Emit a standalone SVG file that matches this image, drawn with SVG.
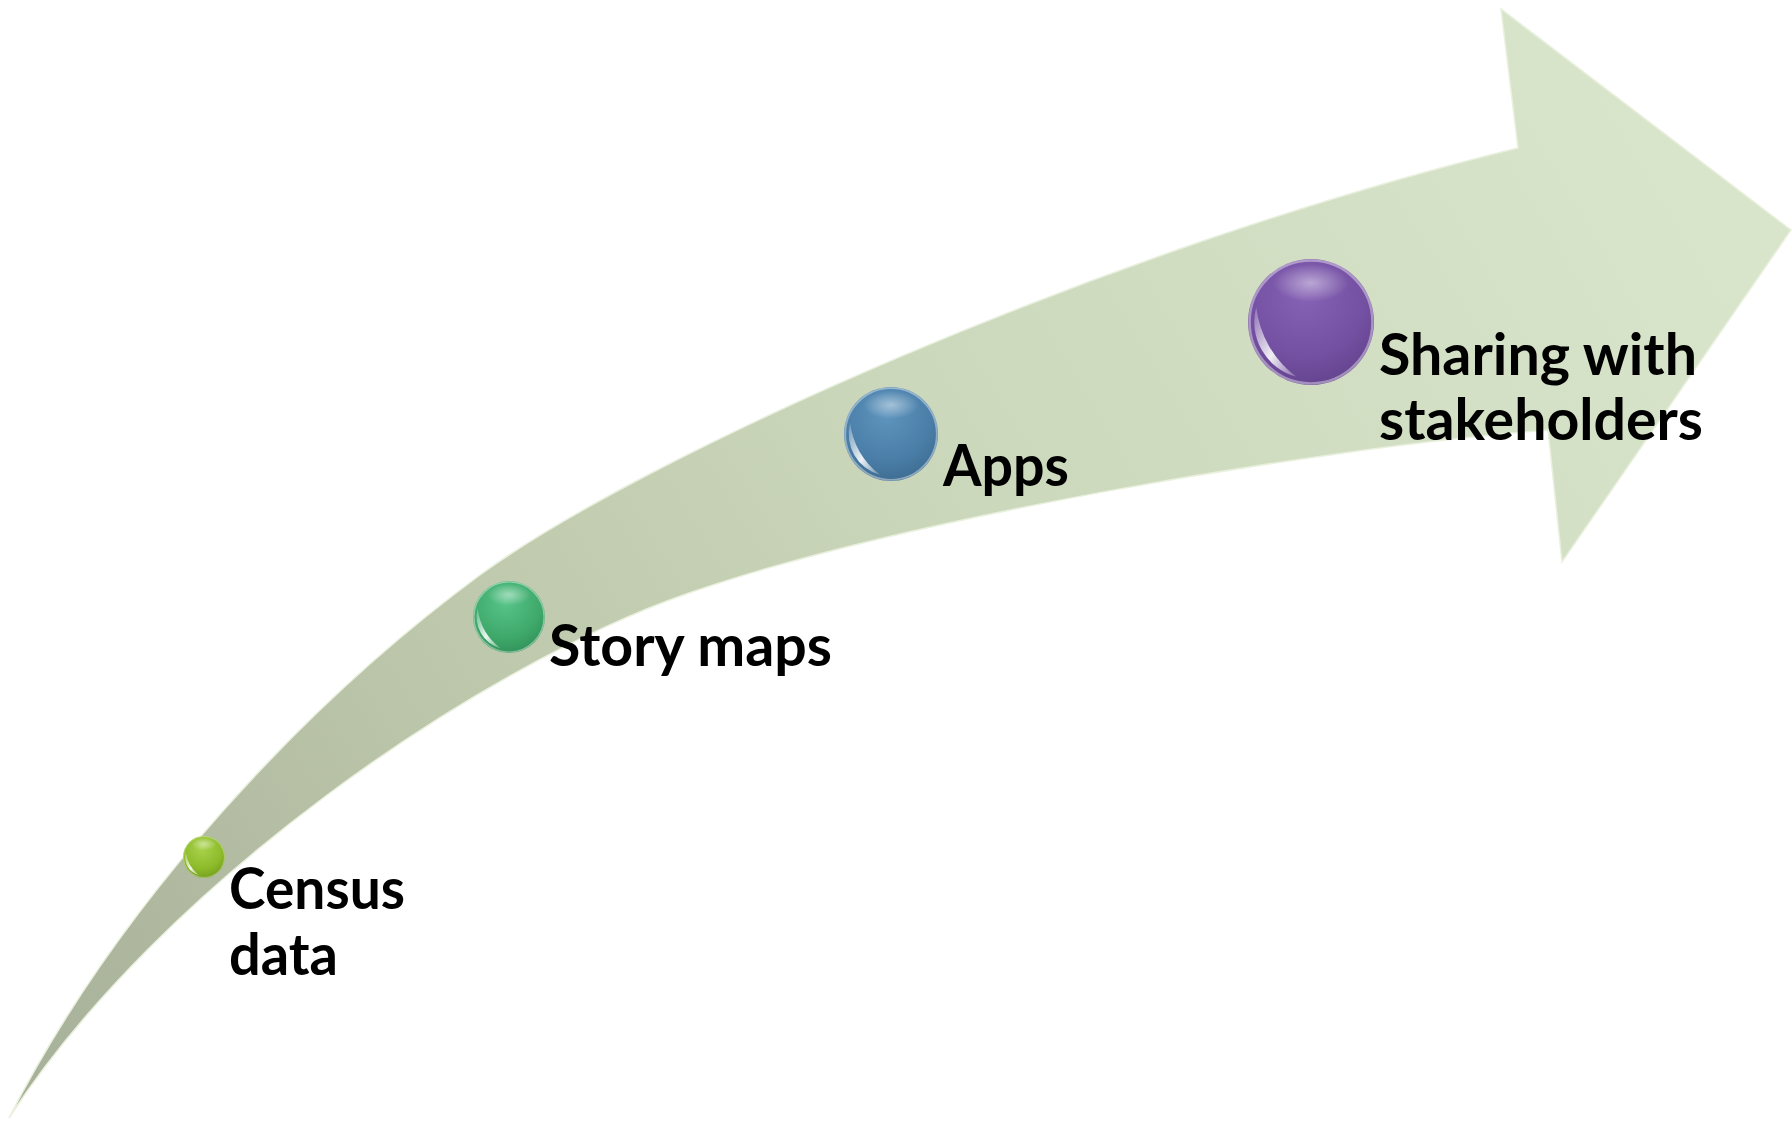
<svg xmlns="http://www.w3.org/2000/svg" xmlns:xlink="http://www.w3.org/1999/xlink" width="1792" height="1123" viewBox="0 0 1792 1123">
  <style>
    .lbl { font-family: Lato, "Open Sans", "Liberation Sans", sans-serif; font-weight: bold; font-size: 57px; fill: #000000; }
  </style>
  <defs>
    <linearGradient id="bandGrad" gradientUnits="userSpaceOnUse" x1="0" y1="1110" x2="1650" y2="120">
      <stop offset="0" stop-color="#a6af98"/>
      <stop offset="0.3" stop-color="#bcc6aa"/>
      <stop offset="0.6" stop-color="#ccd8bb"/>
      <stop offset="1" stop-color="#d9e5cb"/>
    </linearGradient>
    <radialGradient id="gGreen" cx="0.45" cy="0.3" r="0.8">
      <stop offset="0" stop-color="#a9d24c"/>
      <stop offset="0.6" stop-color="#8cbb2a"/>
      <stop offset="1" stop-color="#6c951b"/>
    </radialGradient>
    <radialGradient id="gTeal" cx="0.45" cy="0.3" r="0.8">
      <stop offset="0" stop-color="#58c489"/>
      <stop offset="0.6" stop-color="#3fa96b"/>
      <stop offset="1" stop-color="#2e8a54"/>
    </radialGradient>
    <radialGradient id="gBlue" cx="0.45" cy="0.3" r="0.8">
      <stop offset="0" stop-color="#5e94bd"/>
      <stop offset="0.6" stop-color="#4a7ea8"/>
      <stop offset="1" stop-color="#3a6688"/>
    </radialGradient>
    <radialGradient id="gPurple" cx="0.45" cy="0.3" r="0.8">
      <stop offset="0" stop-color="#8662b5"/>
      <stop offset="0.6" stop-color="#7350a1"/>
      <stop offset="1" stop-color="#5f3f88"/>
    </radialGradient>
    <radialGradient id="topHi" cx="0.5" cy="0.5" r="0.5">
      <stop offset="0" stop-color="#ffffff" stop-opacity="0.45"/>
      <stop offset="1" stop-color="#ffffff" stop-opacity="0"/>
    </radialGradient>
    <linearGradient id="glint" x1="0" y1="0" x2="1" y2="1">
      <stop offset="0" stop-color="#ffffff" stop-opacity="0.2"/>
      <stop offset="0.55" stop-color="#ffffff" stop-opacity="0.9"/>
      <stop offset="1" stop-color="#ffffff" stop-opacity="0.2"/>
    </linearGradient>
    <g id="gloss">
      <ellipse cx="0" cy="-0.62" rx="0.6" ry="0.3" fill="url(#topHi)"/>
      <path d="M -0.869 -0.233 A 0.9 0.9 0 0 0 -0.233 0.869 A 1.6 1.6 0 0 1 -0.869 -0.233 Z" fill="url(#glint)"/>
      <circle r="0.975" fill="none" stroke="#ffffff" stroke-opacity="0.4" stroke-width="0.04"/>
    </g>
  </defs>

  <g id="connectors">
    <path id="arrow" d="M 9 1118 C 120 900 310 700 480 575 C 640 458 1100 250 1518 148 L 1501 9 L 1791 230 L 1562 562 L 1548 430 C 1300 450 900 520 689 593 C 478 666 160 885 9 1118 Z" fill="url(#bandGrad)" stroke="#e9f0de" stroke-width="1.5" stroke-linejoin="miter"/>
  </g>

  <g id="node-census">
    <circle cx="204" cy="857" r="21" fill="url(#gGreen)"/>
    <use xlink:href="#gloss" transform="translate(204 857) scale(21)"/>
    <text class="lbl" x="229" y="909" textLength="176" lengthAdjust="spacingAndGlyphs">Census</text>
    <text class="lbl" x="229" y="975" textLength="109" lengthAdjust="spacingAndGlyphs">data</text>
  </g>

  <g id="node-story">
    <circle cx="509" cy="617" r="36" fill="url(#gTeal)"/>
    <use xlink:href="#gloss" transform="translate(509 617) scale(36)"/>
    <text class="lbl" x="549" y="666" textLength="283" lengthAdjust="spacingAndGlyphs">Story maps</text>
  </g>

  <g id="node-apps">
    <circle cx="891" cy="434" r="47" fill="url(#gBlue)"/>
    <use xlink:href="#gloss" transform="translate(891 434) scale(47)"/>
    <text class="lbl" x="943" y="486" textLength="126" lengthAdjust="spacingAndGlyphs">Apps</text>
  </g>

  <g id="node-sharing">
    <circle cx="1311" cy="322" r="63" fill="url(#gPurple)"/>
    <use xlink:href="#gloss" transform="translate(1311 322) scale(63)"/>
    <text class="lbl" x="1379" y="375" textLength="318" lengthAdjust="spacingAndGlyphs">Sharing with</text>
    <text class="lbl" x="1379" y="440" textLength="324" lengthAdjust="spacingAndGlyphs">stakeholders</text>
  </g>
</svg>
